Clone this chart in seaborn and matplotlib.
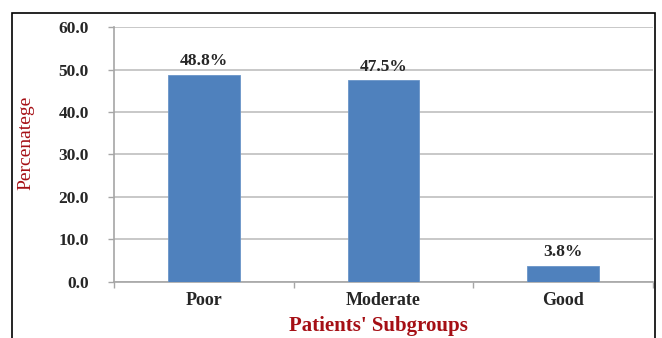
import matplotlib
matplotlib.use("Agg")
import matplotlib.pyplot as plt
import seaborn as sns
import pandas as pd
from matplotlib.patches import Rectangle

categories = ["Poor", "Moderate", "Good"]
percentages = [48.8, 47.5, 3.8]
value_labels = ["48.8%", "47.5%", "3.8%"]
y_ticks = [0, 10, 20, 30, 40, 50, 60]

sns.set_theme(style="white")
plt.rcParams["font.family"] = ["Liberation Serif", "DejaVu Serif"]

df = pd.DataFrame({"group": categories, "pct": percentages})

fig = plt.figure(figsize=(6.62, 3.38), dpi=100)
ax = fig.add_axes([0.1722, 0.1657, 0.8142, 0.7544])

sns.barplot(data=df, x="group", y="pct", color="#4F81BD", width=0.4,
            saturation=1, edgecolor="#6A95C8", linewidth=0.6, ax=ax, zorder=3)

ax.set_ylim(0, 60)
ax.set_xlim(-0.5, 2.5)
ax.set_yticks(y_ticks)
ax.set_yticklabels([f"{v:.1f}" for v in y_ticks], fontsize=12.5, fontweight="bold")
ax.yaxis.grid(True, color="#BFBFBF", linewidth=1.2, zorder=0)
ax.set_axisbelow(True)

for side in ("top", "right"):
    ax.spines[side].set_visible(False)
for side in ("left", "bottom"):
    ax.spines[side].set_color("#A6A6A6")
    ax.spines[side].set_linewidth(1.2)

ax.tick_params(axis="y", which="major", direction="out", length=4, width=1,
               color="#A6A6A6", pad=14, left=True)
ax.set_xticks(range(len(categories)))
ax.set_xticklabels(categories, fontsize=13, fontweight="bold")
ax.set_xticks([-0.5, 0.5, 1.5, 2.5], minor=True)
ax.tick_params(axis="x", which="major", length=0, pad=7)
ax.tick_params(axis="x", which="minor", direction="out", length=4, width=1,
               color="#A6A6A6", bottom=True)

for i, (v, lab) in enumerate(zip(percentages, value_labels)):
    ax.annotate(lab, (i, v), xytext=(0, 4), textcoords="offset points",
                ha="center", va="bottom", fontsize=12.5, fontweight="bold")

ax.set_xlabel("Patients' Subgroups", fontsize=15, fontweight="bold",
              color="#A50F15", va="baseline")
ax.xaxis.set_label_coords(0.49, -0.192)
ax.set_ylabel("Percenatege", fontsize=14, color="#A50F15")
ax.yaxis.set_label_coords(-0.147, 0.545)

fig.patches.append(Rectangle((12 / 662, -0.1), (655 - 12) / 662, 1.1 - 13 / 338,
                             transform=fig.transFigure, fill=False,
                             edgecolor="black", linewidth=1.2))

fig.savefig("out.png", dpi=100)
